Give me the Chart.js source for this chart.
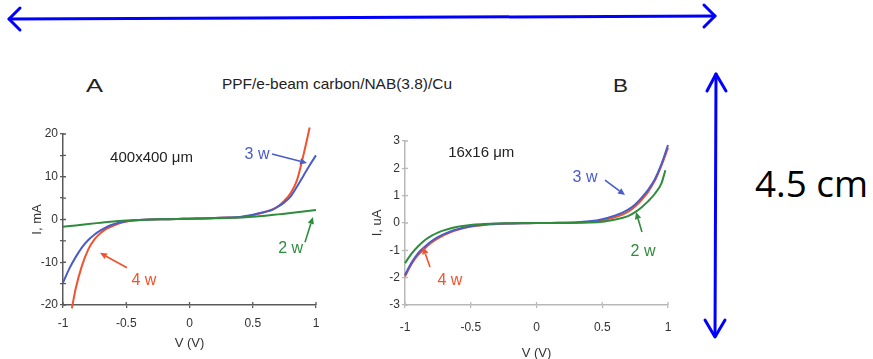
<!DOCTYPE html>
<html><head><meta charset="utf-8">
<script src="https://cdn.jsdelivr.net/npm/chart.js@4.4.0/dist/chart.umd.min.js"></script>
<style>
html,body{margin:0;padding:0;background:#fff;width:873px;height:359px;overflow:hidden;position:relative;font-family:"Liberation Sans",Arial,sans-serif}
#wa{position:absolute;left:0;top:100px;width:345px;height:259px}
#wb{position:absolute;left:345px;top:100px;width:370px;height:265px}
svg{position:absolute;left:0;top:0}
</style></head><body>
<svg width="873" height="359" xmlns="http://www.w3.org/2000/svg">
  <g stroke="#0000ff" stroke-width="3" fill="none" stroke-linecap="round" stroke-linejoin="round">
    <line x1="9" y1="19" x2="715" y2="16"/>
    <polyline points="20,8 9,19 20,30"/>
    <polyline points="704,5 715,16 704,27"/>
    <line x1="716" y1="74" x2="715" y2="336"/>
    <polyline points="707,91 716,74 726,91"/>
    <polyline points="705,320 715,337 725,320"/>
  </g>
  <text x="755" y="197" font-family="Open Sans" font-size="37" fill="#000" textLength="113" lengthAdjust="spacingAndGlyphs">4.5 cm</text>
  <text x="222" y="89" font-family="Liberation Sans" font-size="15" fill="#222" textLength="230" lengthAdjust="spacingAndGlyphs">PPF/e-beam carbon/NAB(3.8)/Cu</text>
  <text x="86" y="92" font-family="Liberation Sans" font-size="19" fill="#222" textLength="17" lengthAdjust="spacingAndGlyphs">A</text>
  <text x="613" y="92" font-family="Liberation Sans" font-size="19" fill="#222" textLength="15" lengthAdjust="spacingAndGlyphs">B</text>
</svg>
<div id="wa"><canvas id="ca"></canvas></div>
<div id="wb"><canvas id="cb"></canvas></div>
<script>
// ---------- data ----------
// Panel A : 400x400 um, current in mA
const vA      = [-1,-0.95,-0.9,-0.85,-0.8,-0.75,-0.7,-0.65,-0.6,-0.5,-0.4,-0.3,-0.2,-0.1,0,0.1,0.2,0.3,0.4,0.5,0.6,0.65,0.7,0.75,0.8,0.85,0.9,0.95,1];
const iA_3w   = [-14.8,-11.5,-8.8,-6.5,-4.8,-3.5,-2.5,-1.7,-1.1,-0.4,-0.1,0,0.05,0.1,0.2,0.25,0.35,0.45,0.6,1.1,1.8,2.2,3.0,4.0,5.4,7.7,10.2,12.7,15.0];
const vA4     = [-0.93,-0.9,-0.85,-0.8,-0.75,-0.7,-0.65,-0.6,-0.5,-0.4,-0.3,-0.2,-0.1,0,0.1,0.2,0.3,0.4,0.5,0.6,0.65,0.7,0.75,0.8,0.85,0.9,0.95];
const iA_4w   = [-20.8,-16.2,-10.8,-7.0,-4.6,-3.1,-2.1,-1.4,-0.5,-0.15,0,0.05,0.1,0.2,0.25,0.35,0.45,0.55,1.0,1.8,2.3,3.1,4.4,6.2,9.2,15.0,21.5];
const vA2     = [-1,-0.9,-0.8,-0.7,-0.6,-0.5,-0.4,-0.3,-0.2,-0.1,0,0.1,0.2,0.3,0.4,0.5,0.6,0.7,0.8,0.9,1];
const iA_2w   = [-1.7,-1.4,-1.05,-0.75,-0.45,-0.25,-0.1,0,0.05,0.1,0.2,0.25,0.3,0.35,0.45,0.65,0.9,1.2,1.5,1.85,2.2];
// Panel B : 16x16 um, current in uA
const vB      = [-1,-0.95,-0.9,-0.85,-0.8,-0.75,-0.7,-0.65,-0.6,-0.5,-0.4,-0.3,-0.2,-0.1,0,0.1,0.2,0.3,0.4,0.5,0.6,0.65,0.7,0.75,0.8,0.85,0.9,0.95,1];
const iB_3w   = [-1.9,-1.45,-1.1,-0.87,-0.67,-0.52,-0.4,-0.3,-0.23,-0.12,-0.06,-0.03,-0.02,-0.01,0,0,0.01,0.02,0.06,0.14,0.28,0.37,0.5,0.68,0.93,1.22,1.6,2.15,2.85];
const iB_4w   = [-1.96,-1.5,-1.17,-0.93,-0.72,-0.56,-0.43,-0.33,-0.25,-0.13,-0.07,-0.04,-0.02,-0.01,0,0,0.01,0.02,0.04,0.1,0.22,0.3,0.42,0.6,0.85,1.15,1.55,2.1,2.75];
const vB2     = [-1,-0.95,-0.9,-0.85,-0.8,-0.75,-0.7,-0.65,-0.6,-0.5,-0.4,-0.3,-0.2,-0.1,0,0.1,0.2,0.3,0.4,0.5,0.6,0.65,0.7,0.75,0.8,0.85,0.9,0.95,0.98];
const iB_2w   = [-1.47,-1.12,-0.85,-0.63,-0.47,-0.35,-0.26,-0.19,-0.14,-0.07,-0.04,-0.02,-0.01,0,0,0,0,0.01,0.02,0.05,0.13,0.18,0.26,0.4,0.58,0.8,1.07,1.45,1.93];
const xTicks  = [-1,-0.5,0,0.5,1];
const seriesNames = ['2 w','3 w','4 w'];
// ---------------------------------------------------

const COL = {g:'#2f8c3c', b:'#4a5cc6', r:'#f2522e'};
const FONT = '"Liberation Sans", Arial, sans-serif';

function ds(label, xs, ys, color){
  return {label, data: xs.map((x,i)=>({x, y: ys[i]})), borderColor: color, backgroundColor: color,
    borderWidth: 2, pointRadius: 0, fill:false, cubicInterpolationMode:'monotone', clip:false};
}

const innerTicks = {
  id:'innerTicks',
  afterDraw(chart, args, o){
    const {ctx, chartArea:a, scales:{x,y}} = chart;
    ctx.save(); ctx.strokeStyle=o.color; ctx.lineWidth=o.width;
    ctx.beginPath();
    x.ticks.forEach(t=>{const p=x.getPixelForValue(t.value); ctx.moveTo(p,a.bottom); ctx.lineTo(p,a.bottom-o.len);});
    y.ticks.forEach(t=>{const p=y.getPixelForValue(t.value); ctx.moveTo(a.left,p); ctx.lineTo(a.left+o.len,p);});
    ctx.stroke(); ctx.restore();
  }
};

const annot = {
  id:'annot',
  afterDatasetsDraw(chart, args, o){
    const {ctx, scales:{x,y}} = chart;
    ctx.save();
    (o.items||[]).forEach(it=>{
      if(it.kind==='text'){
        ctx.font = it.size+'px '+FONT;
        ctx.fillStyle = it.color; ctx.textAlign='center'; ctx.textBaseline='middle';
        ctx.fillText(it.text, x.getPixelForValue(it.x), y.getPixelForValue(it.y));
      } else {
        const x1=x.getPixelForValue(it.x1), y1=y.getPixelForValue(it.y1);
        const x2=x.getPixelForValue(it.x2), y2=y.getPixelForValue(it.y2);
        const ang=Math.atan2(y2-y1,x2-x1), L=7, W=3.2;
        const bx=x2-L*Math.cos(ang), by=y2-L*Math.sin(ang);
        ctx.strokeStyle=it.color; ctx.fillStyle=it.color; ctx.lineWidth=1.6;
        ctx.beginPath(); ctx.moveTo(x1,y1); ctx.lineTo(bx,by); ctx.stroke();
        ctx.beginPath(); ctx.moveTo(x2,y2);
        ctx.lineTo(bx+W*Math.sin(ang), by-W*Math.cos(ang));
        ctx.lineTo(bx-W*Math.sin(ang), by+W*Math.cos(ang));
        ctx.closePath(); ctx.fill();
      }
    });
    ctx.restore();
  }
};

function makeChart(id, cfg){
  const axisC = cfg.axisColor;
  return new Chart(document.getElementById(id), {
    type:'line',
    data:{datasets: cfg.datasets},
    options:{
      responsive:true, maintainAspectRatio:false, animation:false,
      layout:{padding: cfg.padding},
      plugins:{legend:{display:false}, tooltip:{enabled:false},
        innerTicks:{color:axisC, width:1.3, len:3},
        annot:{items: cfg.items}},
      scales:{
        x:{type:'linear', min:-1, max:1,
           afterBuildTicks: s => { s.ticks = xTicks.map(v=>({value:v})); },
           afterFit: s => { s.height = cfg.xh; },
           ticks:{callback:v=>String(v), color:'#333', font:{family:FONT, size:12}, padding:cfg.xpad, maxRotation:0},
           grid:{drawOnChartArea:false, drawTicks:true, tickLength:3, color:axisC, lineWidth:1.3},
           border:{display:true, color:axisC, width:1.5},
           title:{display:true, text:'V (V)', color:'#333', font:{family:FONT, size:13}, padding:{top:0, bottom:cfg.xtp}}},
        y:{type:'linear', min:cfg.ymin, max:cfg.ymax,
           afterFit: s => { s.width = cfg.yw; },
           ticks:{stepSize:cfg.ystep, callback:cfg.ycb, color:'#333', font:{family:FONT, size:12}, padding:2},
           grid:{drawOnChartArea:false, drawTicks:true, tickLength:3, color:axisC, lineWidth:1.3},
           border:{display:true, color:axisC, width:1.5},
           title:{display:true, text:cfg.ytitle, color:'#333', font:{family:FONT, size:13}, padding:{top:cfg.ytp, bottom:0}}}
      }
    },
    plugins:[innerTicks, annot]
  });
}

makeChart('ca', {
  axisColor:'#5a5a5a',
  datasets:[ds(seriesNames[0], vA2, iA_2w, COL.g), ds(seriesNames[1], vA, iA_3w, COL.b), ds(seriesNames[2], vA4, iA_4w, COL.r)],
  padding:{left:0, top:34, right:29, bottom:0},
  xh:54, yw:63, xpad:8, xtp:8.2, ytp:29.2,
  ymin:-20, ymax:20, ystep:5, ycb: v => (v%10===0 ? String(v) : ''),
  ytitle:'I, mA',
  items:[
    {kind:'text', text:'400x400 μm', x:-0.30, y:14.4, size:15, color:'#222'},
    {kind:'text', text:'3 w', x:0.534, y:15.1, size:16, color:COL.b},
    {kind:'arrow', x1:0.652, y1:15.3, x2:0.929, y2:13.2, color:COL.b},
    {kind:'text', text:'2 w', x:0.80, y:-6.7, size:16, color:COL.g},
    {kind:'arrow', x1:0.913, y1:-5.3, x2:0.976, y2:0.6, color:COL.g},
    {kind:'text', text:'4 w', x:-0.36, y:-14.2, size:16, color:COL.r},
    {kind:'arrow', x1:-0.494, y1:-11.3, x2:-0.708, y2:-7.8, color:COL.r}
  ]
});

makeChart('cb', {
  axisColor:'#b8b8b8',
  datasets:[ds(seriesNames[0], vB2, iB_2w, COL.g), ds(seriesNames[1], vB, iB_3w, COL.b), ds(seriesNames[2], vB, iB_4w, COL.r)],
  padding:{left:0, top:41, right:47, bottom:0},
  xh:60, yw:60, xpad:12, xtp:4.2, ytp:24.2,
  ymin:-3, ymax:3, ystep:1, ycb: v => String(v),
  ytitle:'I, uA',
  items:[
    {kind:'text', text:'16x16 μm', x:-0.42, y:2.56, size:15, color:'#222'},
    {kind:'text', text:'3 w', x:0.369, y:1.65, size:16, color:COL.b},
    {kind:'arrow', x1:0.521, y1:1.57, x2:0.673, y2:1.02, color:COL.b},
    {kind:'text', text:'2 w', x:0.81, y:-1.06, size:16, color:COL.g},
    {kind:'arrow', x1:0.802, y1:-0.33, x2:0.757, y2:0.4, color:COL.g},
    {kind:'text', text:'4 w', x:-0.658, y:-2.09, size:16, color:COL.r},
    {kind:'arrow', x1:-0.81, y1:-1.61, x2:-0.863, y2:-0.88, color:COL.r}
  ]
});
</script>
</body></html>
